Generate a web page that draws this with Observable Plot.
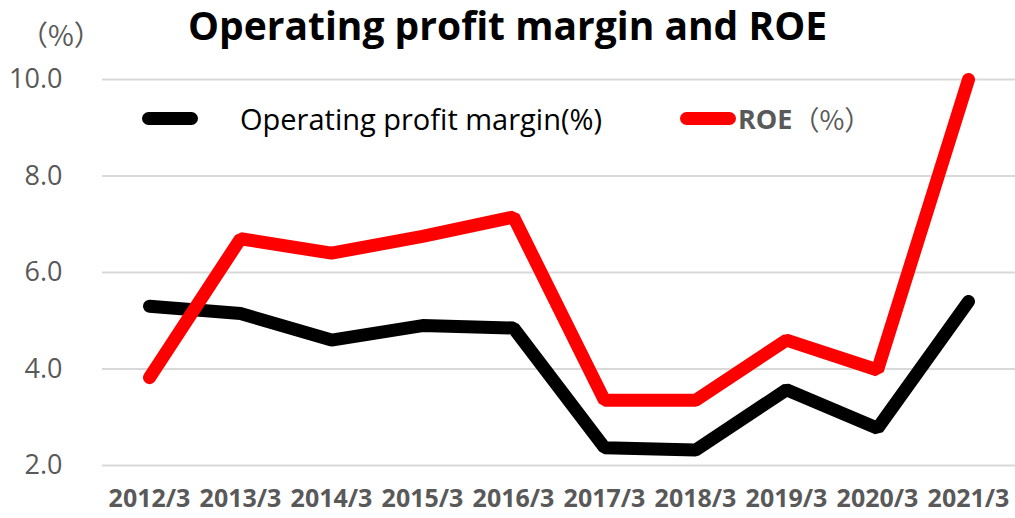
<!DOCTYPE html>
<html>
<head>
<meta charset="utf-8">
<script src="https://cdn.jsdelivr.net/npm/d3@7"></script>
<script src="https://cdn.jsdelivr.net/npm/@observablehq/plot@0.6"></script>
<style>
  html, body { margin: 0; padding: 0; background: #fff; }
  #wrap { position: relative; width: 1015px; height: 518px; font-family: "Open Sans", "Noto Sans", sans-serif; }
  #title { position: absolute; left: 0; width: 1015px; top: -2px; text-align: center; font-size: 39px; font-weight: bold; color: #000; }
  #unit { position: absolute; left: 20px; top: 14px; font-size: 28px; color: #595959; font-family: "Noto Sans CJK JP", "Noto Sans", sans-serif; }
  .leg { position: absolute; top: 99px; display: flex; align-items: center; }
  .sw { width: 56px; height: 13px; border-radius: 6.5px; }
  svg { position: absolute; left: 0; top: 0; }
</style>
</head>
<body>
<div id="wrap">
  <div id="chart"></div>
  <div id="title">Operating profit margin and ROE</div>
  <div id="unit">（%）</div>
  <div class="leg" style="left:142px;"><div class="sw" style="background:#000;margin-right:42px"></div><span style="color:#000;font-size:29px">Operating profit margin(%)</span></div>
  <div class="leg" style="left:680px;"><div class="sw" style="background:#ff0000;margin-right:2px"></div><span style="color:#595959;font-weight:bold;font-size:27px">ROE</span><span style="color:#595959;font-size:27px;font-family:'Noto Sans CJK JP',sans-serif">（%）</span></div>
</div>
<script>
const years = ["2012/3","2013/3","2014/3","2015/3","2016/3","2017/3","2018/3","2019/3","2020/3","2021/3"];
const opMargin = [5.3, 5.15, 4.6, 4.9, 4.85, 2.37, 2.32, 3.57, 2.77, 5.4];
const roe = [3.82, 6.7, 6.4, 6.75, 7.15, 3.35, 3.35, 4.6, 3.98, 10.0];
const yTicks = [2, 4, 6, 8, 10];

const opData = years.map((y, i) => ({year: y, value: opMargin[i]}));
const roeData = years.map((y, i) => ({year: y, value: roe[i]}));

const chart = Plot.plot({
  width: 1015,
  height: 518,
  marginLeft: 102,
  marginRight: 0,
  marginTop: 79,
  marginBottom: 53,
  style: {fontFamily: "'Open Sans', 'Noto Sans', sans-serif", background: "transparent", overflow: "visible"},
  x: {type: "point", domain: years, padding: 0.5, align: 0.5, label: null},
  y: {domain: [2, 10], label: null},
  marks: [
    Plot.gridY(yTicks, {stroke: "#d9d9d9", strokeOpacity: 1, strokeWidth: 2}),
    Plot.axisY(yTicks, {tickSize: 0, tickPadding: 40, tickFormat: d3.format(".1f"), fontSize: 27, fill: "#595959", label: null}),
    Plot.axisX({tickSize: 0, tickPadding: 24, fontSize: 25, fontWeight: "bold", fill: "#595959", label: null}),
    Plot.line(opData, {x: "year", y: "value", stroke: "#000", strokeWidth: 13, strokeLinecap: "round", strokeLinejoin: "miter"}),
    Plot.line(roeData, {x: "year", y: "value", stroke: "#ff0000", strokeWidth: 13, strokeLinecap: "round", strokeLinejoin: "miter"})
  ]
});
document.getElementById("chart").appendChild(chart);
</script>
</body>
</html>
